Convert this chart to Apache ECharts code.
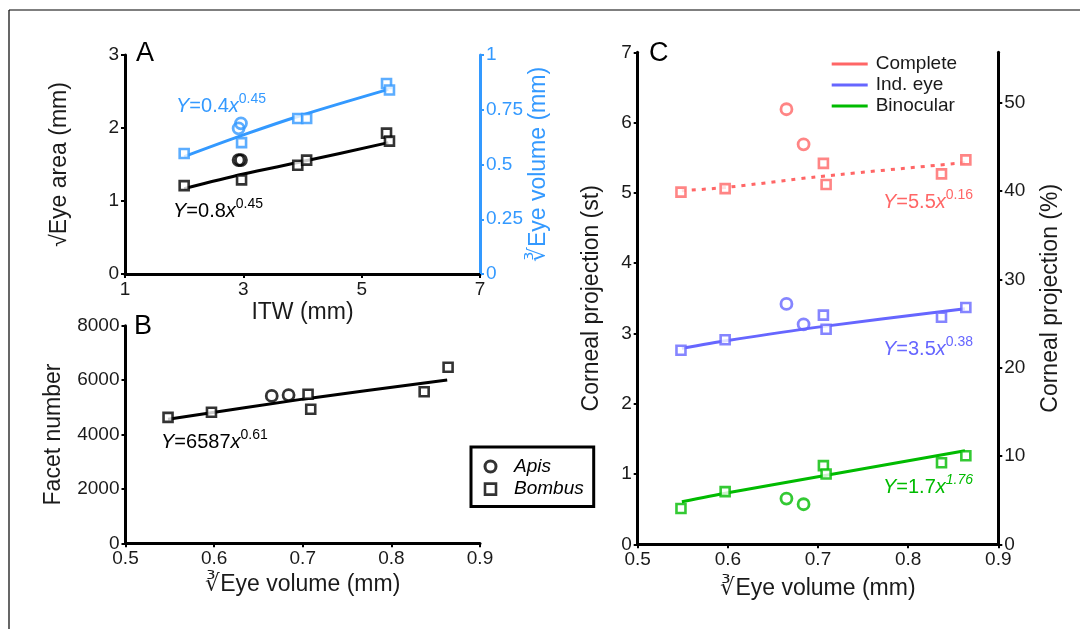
<!DOCTYPE html>
<html><head><meta charset="utf-8">
<script src="https://cdn.jsdelivr.net/npm/echarts@6/dist/echarts.min.js"></script>
<style>html,body{margin:0;padding:0;background:#fff}#c{width:1080px;height:629px}</style>
</head><body><div id="c"></div>
<script>
// ---------- Panel A: ITW vs sqrt eye area / cube-root eye volume ----------
const itwBombus   = [2.0, 2.97, 3.92, 4.07, 5.42, 5.47];
const areaBombus  = [1.21, 1.29, 1.49, 1.56, 1.93, 1.82];
const volBombusA  = [0.55, 0.60, 0.71, 0.71, 0.87, 0.84];
const itwApis     = [2.92, 2.96];
const areaApis    = [1.56, 1.56];
const volApisA    = [0.665, 0.688];
const fitAX       = [2.0, 3.0, 4.0, 5.45];
const fitAreaY    = [1.17, 1.37, 1.54, 1.80];
const fitVolAY    = [0.536, 0.635, 0.726, 0.843];
// ---------- Panel B: eye volume vs facet number ----------
const volBombus   = [0.548, 0.597, 0.706, 0.709, 0.837, 0.864];
const volApis     = [0.665, 0.684];
const facetsBombus= [4630, 4820, 5480, 4930, 5570, 6470];
const facetsApis  = [5420, 5450];
const fitBX       = [0.548, 0.7, 0.863];
const fitFacetY   = [4560, 5300, 6000];
// ---------- Panel C: eye volume vs corneal projection ----------
const completeBombus = [5.01, 5.06, 5.42, 5.12, 5.27, 5.47];
const completeApis   = [6.19, 5.69];
const indEyeBombus   = [2.76, 2.91, 3.26, 3.06, 3.23, 3.37];
const indEyeApis     = [3.42, 3.13];
const binocBombus    = [0.51, 0.75, 1.12, 1.00, 1.16, 1.26];
const binocApis      = [0.65, 0.57];
const fitCX          = [0.549, 0.6, 0.7, 0.863];
const fitComplete    = [5.03, 5.08, 5.23, 5.43];
const fitIndEye      = [2.79, 2.90, 3.09, 3.35];
const fitBinoc       = [0.606, 0.734, 0.96, 1.33];
// tick values
const pctTicks = [0, 10, 20, 30, 40, 50];
const cLegend = ['Complete', 'Ind. eye', 'Binocular'];

const F = 'Liberation Sans, Arial, sans-serif';
const BLACK = '#000', LBL = '#1a1a1a';
const A_BLUE = '#3399ff', RED = '#ff6666', BLUE = '#6666ff', GREEN = '#00bb00';
const pairs = (xs, ys) => xs.map((x, i) => [x, ys[i]]);

function axis(extra, color, labelColor) {
  return Object.assign({
    type: 'value',
    axisLine: { show: true, onZero: false, lineStyle: { color: color, width: 3 } },
    axisTick: { show: true, inside: false, length: 4, lineStyle: { color: color, width: 2 } },
    axisLabel: { color: labelColor, fontSize: 19, fontFamily: F, margin: 6, formatter: v => String(+v.toFixed(4)) },
    splitLine: { show: false },
    nameLocation: 'middle',
    nameTextStyle: { color: labelColor, fontSize: 23, fontFamily: F }
  }, extra);
}
function sq(name, xi, yi, data, color) {
  return { type: 'scatter', name, xAxisIndex: xi, yAxisIndex: yi, data, symbol: 'rect', symbolSize: 9, z: 5,
    itemStyle: { color: '#fff', borderColor: color, borderWidth: 2.6 }, silent: true };
}
function ci(name, xi, yi, data, color) {
  return { type: 'scatter', name, xAxisIndex: xi, yAxisIndex: yi, data, symbol: 'circle', symbolSize: 11, z: 5,
    itemStyle: { color: 'rgba(255,255,255,0)', borderColor: color, borderWidth: 2.8 }, silent: true };
}
function fit(name, xi, yi, data, color, dotted) {
  return { type: 'line', name, xAxisIndex: xi, yAxisIndex: yi, data, symbol: 'none', smooth: 0.3, z: 3,
    lineStyle: { color, width: 3, type: dotted ? [4, 6] : 'solid' }, itemStyle: { color }, silent: true };
}
function eq(x, y, color, coef, exp, align, expItalic) {
  const base = { fontSize: 20, fontFamily: F, verticalAlign: 'bottom', fill: color };
  return { type: 'text', x, y, silent: true,
    style: { text: '{i|Y}{n|=' + coef + '}{i|x}{' + (expItalic ? 'si' : 's') + '|' + exp + '}',
      align, verticalAlign: 'middle', fill: color, fontSize: 20, fontFamily: F,
      rich: { i: Object.assign({}, base, { fontStyle: 'italic' }), n: base,
        s: { fontSize: 14, fontFamily: F, verticalAlign: 'bottom', fill: color, padding: [0, 0, 10, 0] },
        si: { fontSize: 14, fontFamily: F, fontStyle: 'italic', verticalAlign: 'bottom', fill: color, padding: [0, 0, 10, 0] } } } };
}
function letter(t, x, y) {
  return { type: 'text', x, y, silent: true, style: { text: t, fontSize: 27, fontFamily: F, fill: BLACK, align: 'left', verticalAlign: 'middle' } };
}

const option = {
  animation: false,
  backgroundColor: '#fff',
  grid: [
    { left: 125, top: 55, width: 355, height: 219, outerBoundsMode: 'none' },
    { left: 125.5, top: 325.7, width: 354.5, height: 217.6, outerBoundsMode: 'none' },
    { left: 637.7, top: 52.3, width: 360.6, height: 492, outerBoundsMode: 'none' }
  ],
  xAxis: [
    axis({ gridIndex: 0, min: 1, max: 7, interval: 2, name: 'ITW (mm)', nameGap: 27 }, BLACK, LBL),
    axis({ gridIndex: 1, min: 0.5, max: 0.9, interval: 0.1, name: '∛Eye volume (mm)', nameGap: 30 }, BLACK, LBL),
    axis({ gridIndex: 2, min: 0.5, max: 0.9, interval: 0.1, name: '∛Eye volume (mm)', nameGap: 33 }, BLACK, LBL)
  ],
  yAxis: [
    axis({ gridIndex: 0, position: 'left', min: 0, max: 3, interval: 1, name: '√Eye area (mm)', nameGap: 54 }, BLACK, LBL),
    axis({ gridIndex: 0, position: 'right', min: 0, max: 1, interval: 0.25, name: '∛Eye volume (mm)', nameGap: 36 }, A_BLUE, A_BLUE),
    axis({ gridIndex: 1, position: 'left', min: 0, max: 8000, interval: 2000, name: 'Facet number', nameGap: 60 }, BLACK, LBL),
    axis({ gridIndex: 2, position: 'left', min: 0, max: 7, interval: 1, name: 'Corneal projection (st)', nameGap: 35 }, BLACK, LBL),
    (function () {
      const a = axis({ gridIndex: 2, position: 'right', min: 0, max: 700 / (4 * Math.PI), name: 'Corneal projection (%)', nameGap: 41 }, BLACK, LBL);
      a.axisLabel.customValues = pctTicks;
      a.axisTick.customValues = pctTicks;
      return a;
    })()
  ],
  legend: [
    { orient: 'vertical', left: 831.7, top: 54, padding: 0, itemWidth: 36, itemHeight: 3, itemGap: 1, icon: 'rect',
      selectedMode: false, data: cLegend, itemStyle: { borderWidth: 0 },
      textStyle: { fontSize: 19, fontFamily: F, color: LBL, lineHeight: 20, padding: [0, 0, 0, 3] } },
    { orient: 'vertical', left: 471, top: 447, padding: [9.5, 10, 7.5, 12.5], borderColor: BLACK, borderWidth: 3,
      itemWidth: 11, itemHeight: 11, itemGap: 2.6, selectedMode: false,
      data: [
        { name: 'Apis', icon: 'circle', itemStyle: { color: '#fff', borderColor: BLACK, borderWidth: 3 } },
        { name: 'Bombus', icon: 'rect', itemStyle: { color: '#fff', borderColor: BLACK, borderWidth: 2.6 } }
      ],
      textStyle: { fontSize: 19, fontFamily: F, fontStyle: 'italic', color: BLACK, lineHeight: 20, padding: [0, 0, 0, 13] } }
  ],
  series: [
    // A
    fit('fitArea', 0, 0, pairs(fitAX, fitAreaY), BLACK),
    fit('fitVolA', 0, 1, pairs(fitAX, fitVolAY), A_BLUE),
    sq('Bombus', 0, 0, pairs(itwBombus, areaBombus), BLACK),
    ci('Apis', 0, 0, pairs(itwApis, areaApis), BLACK),
    sq('Bombus', 0, 1, pairs(itwBombus, volBombusA), A_BLUE),
    ci('Apis', 0, 1, pairs(itwApis, volApisA), A_BLUE),
    // B
    fit('fitFacet', 1, 2, pairs(fitBX, fitFacetY), BLACK),
    sq('Bombus', 1, 2, pairs(volBombus, facetsBombus), BLACK),
    ci('Apis', 1, 2, pairs(volApis, facetsApis), BLACK),
    // C
    fit(cLegend[0], 2, 3, pairs(fitCX, fitComplete), RED, true),
    fit(cLegend[1], 2, 3, pairs(fitCX, fitIndEye), BLUE),
    fit(cLegend[2], 2, 3, pairs(fitCX, fitBinoc), GREEN),
    sq('Bombus', 2, 3, pairs(volBombus, completeBombus), RED),
    ci('Apis', 2, 3, pairs(volApis, completeApis), RED),
    sq('Bombus', 2, 3, pairs(volBombus, indEyeBombus), BLUE),
    ci('Apis', 2, 3, pairs(volApis, indEyeApis), BLUE),
    sq('Bombus', 2, 3, pairs(volBombus, binocBombus), GREEN),
    ci('Apis', 2, 3, pairs(volApis, binocApis), GREEN)
  ],
  graphic: [
    { type: 'line', silent: true, shape: { x1: 9, y1: 10, x2: 1080, y2: 10 }, style: { stroke: BLACK, lineWidth: 1.2 } },
    { type: 'line', silent: true, shape: { x1: 9, y1: 10, x2: 9, y2: 629 }, style: { stroke: BLACK, lineWidth: 1.2 } },
    letter('A', 136, 54), letter('B', 134, 327), letter('C', 649, 54),
    eq(176, 104, A_BLUE, '0.4', '0.45', 'left', false),
    eq(173, 209, BLACK, '0.8', '0.45', 'left', false),
    eq(161, 440, BLACK, '6587', '0.61', 'left', false),
    eq(973, 200, RED, '5.5', '0.16', 'right', false),
    eq(973, 347, BLUE, '3.5', '0.38', 'right', false),
    eq(973, 485, GREEN, '1.7', '1.76', 'right', true)
  ]
};
const chart = echarts.init(document.getElementById('c'), null, { renderer: 'canvas' });
chart.setOption(option);
</script></body></html>
